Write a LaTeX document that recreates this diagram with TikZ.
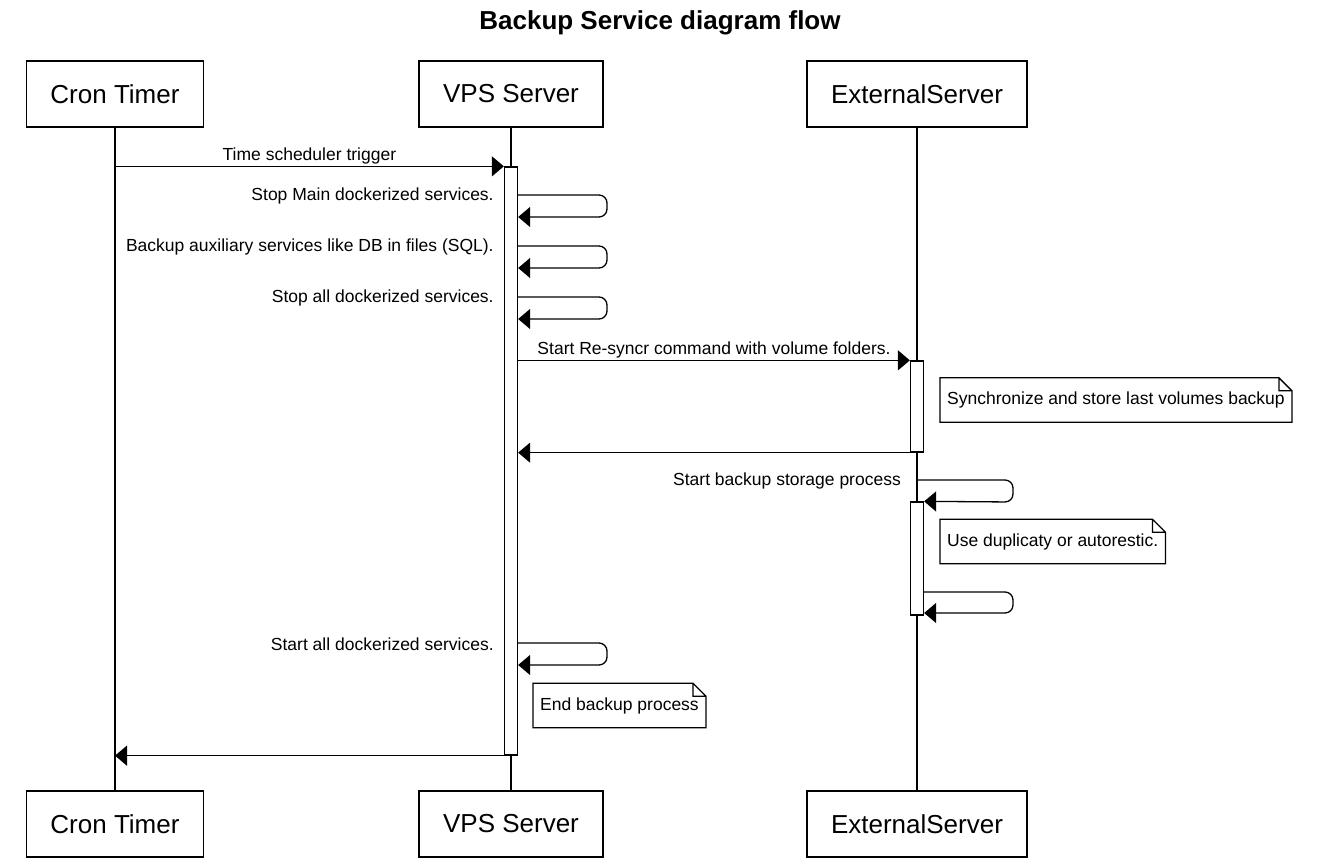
\documentclass[tikz,border=0pt]{standalone}
\usepackage{fontspec}
\setmainfont{Liberation Sans}
\usetikzlibrary{arrows.meta,positioning}

\tikzset{
  actor/.style={draw, line width=1.6pt, minimum height=66pt, inner xsep=24pt,
    font=\fontsize{26}{30}\selectfont},
  life/.style={line width=1.3pt},
  actbar/.style={draw, fill=white, line width=1.3pt, minimum width=13pt, inner sep=0pt},
  msg/.style={line width=1.3pt, -{Triangle[length=12pt,width=20pt]}},
  lbl/.style={font=\fontsize{17.5}{20}\selectfont, inner sep=2pt},
  note/.style={lbl, inner xsep=7pt, minimum height=44pt},
  ttl/.style={font=\bfseries\fontsize{26}{30}\selectfont}
}

\begin{document}
\begin{tikzpicture}[x=1pt,y=-1pt]
  \useasboundingbox (0,0) rectangle (1325,864);

  % Title
  \node[ttl] (title) at (660,23) {Backup Service diagram flow};

  % Participants (top and bottom)
  \node[actor] (cronT) at (115,94) {Cron Timer};
  \node[actor] (vpsT) at (511,94) {VPS Server};
  \node[actor] (extT) at (917,94) {ExternalServer};
  \node[actor] (cronB) at (115,824) {Cron Timer};
  \node[actor] (vpsB) at (511,824) {VPS Server};
  \node[actor] (extB) at (917,824) {ExternalServer};

  % Lifelines
  \foreach \p in {cron,vps,ext}
    \draw[life] (\p T.south) -- (\p B.north);

  % Activation bars
  \node[actbar, minimum height=588pt] (vpsAct) at (511,461) {};
  \node[actbar, minimum height=91pt] (extAct) at (917,406.5) {};
  \node[actbar, minimum height=113pt] (extAct2) at (917,558.5) {};

  % Trigger from the timer
  \draw[msg] (cronT.south |- vpsAct.north) -- node[lbl, above] {Time scheduler trigger} (vpsAct.north west);

  % VPS self calls
  \foreach \y/\txt in {195/Stop Main dockerized services.,
                       246/Backup auxiliary services like DB in files (SQL).,
                       297/Stop all dockerized services.,
                       643/Start all dockerized services.} {
    \draw[msg, rounded corners=8pt] (vpsAct.east |- 0,\y) -| (607,\y+22) -- (vpsAct.east |- 0,\y+22);
    \node[lbl, anchor=east, xshift=-8pt] at (vpsAct.west |- 0,\y+1) {\txt};
  }

  % Sync with the external server
  \draw[msg] (vpsAct.east |- extAct.north) -- node[lbl, above] {Start Re-syncr command with volume folders.} (extAct.north west);
  \draw[msg] (extAct.south west) -- (vpsAct.east |- extAct.south);

  % External server self calls
  \draw[msg, rounded corners=8pt] (extT.south |- 0,480) -| (1013,502) -- (extAct2.north east);
  \node[lbl, anchor=east, xshift=-14pt] at (extT.south |- 0,481) {Start backup storage process};
  \draw[msg, rounded corners=8pt] (extAct2.east |- 0,592) -| (1013,613) -- (extAct2.east |- 0,613);

  % Back to the timer
  \draw[msg] (vpsAct.south west) -- (cronT.south |- vpsAct.south);

  % Notes
  \node[note, anchor=west] (nSync) at (940,400) {Synchronize and store last volumes backup};
  \node[note, anchor=west] (nDup) at (940,541.5) {Use duplicaty or autorestic.};
  \node[note, anchor=west] (nEnd) at (533,705.5) {End backup process};
  \foreach \n in {nSync,nDup,nEnd}
    \draw[line width=1.3pt] (\n.south west) -- (\n.north west) -- ([xshift=-13pt]\n.north east)
      -- ([yshift=-13pt]\n.north east) -- (\n.south east) -- cycle
      ([xshift=-13pt]\n.north east) |- ([yshift=-13pt]\n.north east);
\end{tikzpicture}
\end{document}
